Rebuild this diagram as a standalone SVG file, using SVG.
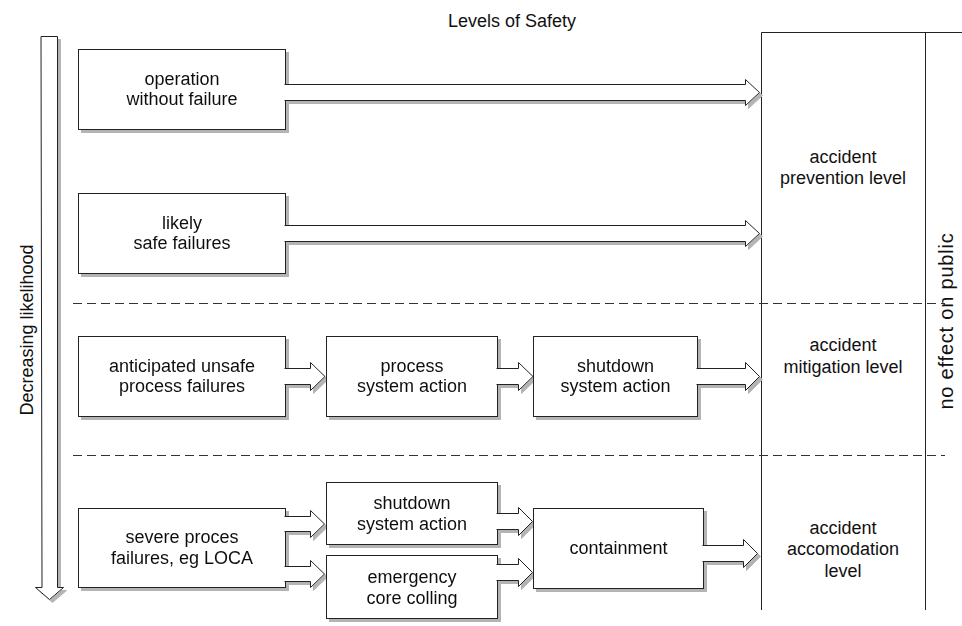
<svg xmlns="http://www.w3.org/2000/svg" width="962" height="626" viewBox="0 0 962 626">
<style>
  text { font-family: "Liberation Sans", Arial, sans-serif; font-size: 18px; fill: #111; text-anchor: middle; }
  .box { fill: #fff; stroke: #222; stroke-width: 1; }
  .arr { fill: #fff; stroke: #222; stroke-width: 1; stroke-linecap: square; }
  .dash { stroke: #333; stroke-width: 1; stroke-dasharray: 9 5; fill: none; }
  .panel { stroke: #222; stroke-width: 1; fill: none; }
</style>
<defs>
  <filter id="sh" x="-5%" y="-5%" width="115%" height="115%">
    <feDropShadow dx="3" dy="3" stdDeviation="0.5" flood-color="#b4b4b4" flood-opacity="1"/>
  </filter>
</defs>
<rect x="0" y="0" width="962" height="626" fill="#fff"/>

<text id="title" x="512" y="27">Levels of Safety</text>

<g id="panel">
  <path class="panel" d="M761.5 610 V32.5 H962 M925.5 32.5 V610"/>
  <text x="843" y="163">accident</text>
  <text x="843" y="184">prevention level</text>
  <text x="843" y="351">accident</text>
  <text x="843" y="373">mitigation level</text>
  <text x="843" y="534">accident</text>
  <text x="843" y="555">accomodation</text>
  <text x="843" y="577">level</text>
  <text transform="translate(953,321) rotate(-90)" style="font-size:20px;letter-spacing:0.8px">no effect on public</text>
</g>

<g id="separators">
  <line class="dash" x1="73" y1="303.5" x2="945" y2="303.5"/>
  <line class="dash" x1="73" y1="455.5" x2="945" y2="455.5"/>
</g>

<g filter="url(#sh)">
  <g id="likelihood-arrow">
    <path class="arr" d="M41.5 36.5 H57.5 V587.5 H63.5 L49.5 599.5 L35.5 587.5 H41.5 Z"/>
  </g>

  <g id="nodes">
    <g id="n-operation">
      <rect class="box" x="78.5" y="49.5" width="207" height="80"/>
      <text x="182" y="85">operation</text>
      <text x="182" y="105">without failure</text>
    </g>
    <g id="n-likely">
      <rect class="box" x="78.5" y="193.5" width="207" height="80"/>
      <text x="182" y="229">likely</text>
      <text x="182" y="249">safe failures</text>
    </g>
    <g id="n-anticipated">
      <rect class="box" x="78.5" y="336.5" width="207" height="80"/>
      <text x="182" y="372">anticipated unsafe</text>
      <text x="182" y="392">process failures</text>
    </g>
    <g id="n-process">
      <rect class="box" x="326.5" y="336.5" width="171" height="80"/>
      <text x="412" y="372">process</text>
      <text x="412" y="392">system action</text>
    </g>
    <g id="n-shutdown1">
      <rect class="box" x="533.5" y="336.5" width="164" height="80"/>
      <text x="615.5" y="372">shutdown</text>
      <text x="615.5" y="392">system action</text>
    </g>
    <g id="n-severe">
      <rect class="box" x="78.5" y="508.5" width="207" height="79"/>
      <text x="182" y="543">severe proces</text>
      <text x="182" y="564">failures, eg LOCA</text>
    </g>
    <g id="n-shutdown2">
      <rect class="box" x="326.5" y="482.5" width="171" height="62"/>
      <text x="412" y="509">shutdown</text>
      <text x="412" y="530">system action</text>
    </g>
    <g id="n-emergency">
      <rect class="box" x="326.5" y="555.5" width="171" height="63"/>
      <text x="412" y="583">emergency</text>
      <text x="412" y="604">core colling</text>
    </g>
    <g id="n-containment">
      <rect class="box" x="533.5" y="508.5" width="170" height="80"/>
      <text x="618.5" y="554">containment</text>
    </g>
  </g>

  <g id="connectors">
    <path class="arr" d="M285 84.5 H745.5 V79.5 L759.5 92.5 L745.5 105.5 V100.5 H285"/>
    <path class="arr" d="M285 225.5 H745.5 V220.5 L759.5 233.5 L745.5 246.5 V241.5 H285"/>
    <path class="arr" d="M285 368.5 H310.5 V362.5 L325 376.5 L310.5 390.5 V384.5 H285"/>
    <path class="arr" d="M497 368.5 H518.5 V362.5 L533 376.5 L518.5 390.5 V384.5 H497"/>
    <path class="arr" d="M697 368.5 H745.5 V362.5 L759.5 376.5 L745.5 390.5 V384.5 H697"/>
    <path class="arr" d="M285 516.5 H310.5 V510.5 L324.5 524 L310.5 537.5 V531.5 H285"/>
    <path class="arr" d="M285 566.5 H310.5 V560.5 L324.5 574 L310.5 587.5 V581.5 H285"/>
    <path class="arr" d="M497 513.5 H518.5 V507.5 L532.5 521.5 L518.5 535.5 V529.5 H497"/>
    <path class="arr" d="M497 564.5 H518.5 V558.5 L532.5 572.5 L518.5 586.5 V580.5 H497"/>
    <path class="arr" d="M703 545.5 H743.5 V539.5 L757.5 553.5 L743.5 567.5 V561.5 H703"/>
  </g>
</g>

<text id="likelihood-label" transform="translate(33,330) rotate(-90)">Decreasing likelihood</text>
</svg>
